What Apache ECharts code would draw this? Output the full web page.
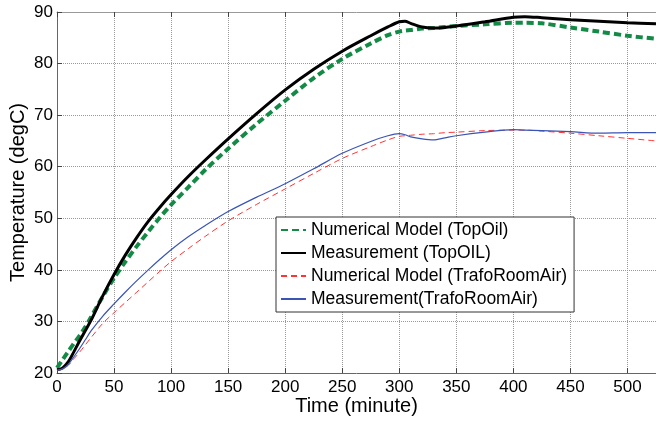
<!DOCTYPE html>
<html>
<head>
<meta charset="utf-8">
<script src="https://cdn.jsdelivr.net/npm/echarts@6/dist/echarts.min.js"></script>
<style>
html,body{margin:0;padding:0;background:#fff;}
#c{width:656px;height:423px;}
</style>
</head>
<body>
<div id="c"></div>
<script>
// time in minutes
const timeMin = [0,5,10,15,20,25,30,40,50,60,70,80,90,100,115,130,150,175,200,225,250,275,290,300,305,310,320,330,340,350,375,400,410,425,450,475,500,525];
// Numerical Model (TopOil)
const modelTopOil = [21.0,22.6,24.2,25.8,27.3,29.0,30.9,34.8,38.4,41.6,44.6,47.4,50.1,52.6,56.0,59.4,63.5,68.3,72.8,77.2,80.9,83.9,85.5,86.2,86.4,86.5,86.8,86.9,87.1,87.3,87.6,87.9,87.9,87.8,87.0,86.2,85.4,84.8];
// Measurement (TopOIL)
const measTopOil = [20.6,21.0,22.2,24.2,26.3,28.3,30.3,34.9,39.1,42.9,46.3,49.4,52.1,54.6,58.1,61.3,65.4,70.3,74.9,78.9,82.4,85.4,87.1,88.1,88.2,87.8,87.1,86.9,87.0,87.3,88.1,89.0,89.1,88.9,88.5,88.2,87.9,87.7];
// Numerical Model (TrafoRoomAir)
const modelRoomAir = [20.5,20.8,21.5,22.8,24.1,25.5,26.9,29.6,31.7,33.7,35.7,37.7,39.7,41.6,44.1,46.5,49.5,52.7,55.7,58.7,61.6,63.9,65.2,65.9,66.0,66.1,66.3,66.4,66.6,66.7,67.0,67.1,67.1,66.9,66.5,66.0,65.5,65.0];
// Measurement(TrafoRoomAir)
const measRoomAir = [20.5,20.8,21.7,23.2,24.8,26.5,28.2,31.0,33.4,35.7,37.9,40.0,42.0,43.9,46.4,48.6,51.3,54.1,56.7,59.6,62.6,64.9,66.0,66.4,66.2,65.8,65.4,65.2,65.6,66.0,66.7,67.2,67.1,67.0,66.8,66.5,66.6,66.6];

const seriesNames = ['Numerical Model (TopOil)','Measurement (TopOIL)','Numerical Model (TrafoRoomAir)','Measurement(TrafoRoomAir)'];
const xTicks = {min:0, max:525, interval:50};
const yTicks = {min:20, max:90, interval:10};

const FF = '"Liberation Sans", Arial, sans-serif';
function pairs(v){ return timeMin.map((t,i)=>[t,v[i]]); }

const chart = echarts.init(document.getElementById('c'), null, {renderer:'canvas'});
const axisLineStyle = {color:'#666', width:1};
chart.setOption({
  animation:false,
  backgroundColor:'#fff',
  textStyle:{fontFamily:FF},
  grid:{left:57, top:12, right:0, bottom:50, containLabel:false, outerBoundsMode:'none'},
  legend:{
    orient:'vertical', left:276, top:217,
    padding:[4,7,4,4], itemWidth:25, itemHeight:12, itemGap:5,
    backgroundColor:'#fff', borderColor:'#333', borderWidth:1, borderRadius:0,
    itemStyle:{opacity:0},
    textStyle:{fontSize:17.5, color:'#000', fontFamily:FF},
    data:seriesNames
  },
  xAxis:[{
    type:'value', min:xTicks.min, max:xTicks.max, interval:xTicks.interval,
    name:'Time (minute)', nameLocation:'middle', nameGap:23, nameMoveOverlap:false,
    nameTextStyle:{fontSize:20, color:'#000', fontFamily:FF},
    axisLine:{show:true, lineStyle:axisLineStyle},
    axisTick:{show:true, inside:true, length:5, lineStyle:{color:'#444'}},
    axisLabel:{fontSize:17, color:'#000', margin:6, showMaxLabel:false, fontFamily:FF},
    splitLine:{show:true, lineStyle:{type:'dotted', color:'#999', width:1}}
  },{
    type:'value', position:'top', min:xTicks.min, max:xTicks.max, interval:xTicks.interval,
    axisLine:{show:true, lineStyle:{color:'#999', width:1}},
    axisTick:{show:true, inside:true, length:5, lineStyle:{color:'#444'}},
    axisLabel:{show:false}, splitLine:{show:false}
  }],
  yAxis:{
    type:'value', min:yTicks.min, max:yTicks.max, interval:yTicks.interval,
    name:'Temperature (degC)', nameLocation:'middle', nameGap:29, nameMoveOverlap:false,
    nameTextStyle:{fontSize:20, color:'#000', fontFamily:FF},
    axisLine:{show:true, lineStyle:axisLineStyle},
    axisTick:{show:true, inside:true, length:5, lineStyle:{color:'#444'}},
    axisLabel:{fontSize:17, color:'#000', margin:4, fontFamily:FF},
    splitLine:{show:true, lineStyle:{type:'dotted', color:'#999', width:1}}
  },
  series:[
    {name:seriesNames[0], type:'line', data:pairs(modelTopOil), symbol:'none', smooth:0.3,
     lineStyle:{color:'#138a45', width:4, type:[7,4]}, itemStyle:{color:'#138a45'}},
    {name:seriesNames[1], type:'line', data:pairs(measTopOil), symbol:'none', smooth:0.3,
     lineStyle:{color:'#000', width:3}, itemStyle:{color:'#000'}},
    {name:seriesNames[2], type:'line', data:pairs(modelRoomAir), symbol:'none', smooth:0.3,
     lineStyle:{color:'#ff3333', width:1, type:[6,4]}, itemStyle:{color:'#ff3333'}},
    {name:seriesNames[3], type:'line', data:pairs(measRoomAir), symbol:'none', smooth:0.3,
     lineStyle:{color:'#3a55b4', width:1.2}, itemStyle:{color:'#3a55b4'}}
  ]
});
</script>
</body>
</html>
